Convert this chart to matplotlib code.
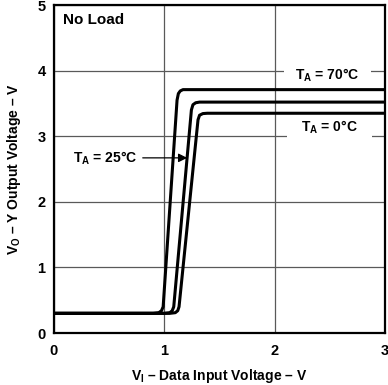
import numpy as np
import matplotlib
matplotlib.use("Agg")
import matplotlib.pyplot as plt

plt.rcParams['font.family'] = ['Liberation Sans', 'DejaVu Sans']
plt.rcParams['font.weight'] = 'bold'
plt.rcParams['mathtext.fontset'] = 'custom'
plt.rcParams['mathtext.rm'] = 'Liberation Sans:bold'
plt.rcParams['mathtext.it'] = 'Liberation Sans:bold'
plt.rcParams['mathtext.bf'] = 'Liberation Sans:bold'
plt.rcParams['mathtext.default'] = 'rm'

# transfer curves (VI, VO)
vi_70 = [0, 0.90, 0.95, 0.975, 0.99, 1.116, 1.128, 1.145, 1.17, 3]
vo_70 = [0.3, 0.3, 0.31, 0.34, 0.40, 3.55, 3.65, 3.69, 3.71, 3.71]
vi_25 = [0, 1.00, 1.05, 1.072, 1.086, 1.246, 1.26, 1.285, 1.32, 3]
vo_25 = [0.3, 0.3, 0.31, 0.34, 0.40, 3.40, 3.48, 3.51, 3.52, 3.52]
vi_0 = [0, 1.05, 1.10, 1.122, 1.134, 1.306, 1.32, 1.35, 1.39, 3]
vo_0 = [0.3, 0.3, 0.31, 0.34, 0.40, 3.25, 3.32, 3.345, 3.35, 3.35]

xticks = [0, 1, 2, 3]
yticks = [0, 1, 2, 3, 4, 5]

fig = plt.figure(figsize=(3.88, 3.85), dpi=100)
ax = fig.add_axes([0.139, 0.135, 0.853, 0.852])

ax.set_xlim(0, 3)
ax.set_ylim(0, 5)
ax.set_xticks(xticks)
ax.set_yticks(yticks)
ax.tick_params(length=0, labelsize=10.5)
ax.tick_params(axis='x', pad=8)
ax.tick_params(axis='y', pad=6)
for lbl in ax.get_xticklabels() + ax.get_yticklabels():
    lbl.set_fontweight('bold')
ax.grid(True, color='0.35', lw=0.9)
ax.set_axisbelow(True)
for s in ax.spines.values():
    s.set_linewidth(1.6)

for x, y in [(vi_70, vo_70), (vi_25, vo_25), (vi_0, vo_0)]:
    ax.plot(x, y, color='black', lw=2.2, solid_joinstyle='round',
            solid_capstyle='butt', zorder=2)

ax.text(0.08, 4.77, 'No Load', fontsize=11, fontweight='bold', va='center')
# labels sit on a white patch that breaks the grid line behind them
ax.text(2.48, 3.93, r'T$_\mathrm{A}$ = 70°C', fontsize=10, fontweight='bold',
        ha='center', va='center', zorder=1,
        bbox=dict(fc='white', ec='none', pad=8))
ax.text(2.50, 3.14, r'T$_\mathrm{A}$ = 0°C', fontsize=10, fontweight='bold',
        ha='center', va='center', zorder=1,
        bbox=dict(fc='white', ec='none', pad=10))
ax.text(0.172, 2.67, r'T$_\mathrm{A}$ = 25°C', fontsize=10, fontweight='bold',
        va='center')
ax.annotate('', xy=(1.208, 2.67), xytext=(0.805, 2.67),
            arrowprops=dict(arrowstyle='-|>', color='black', lw=0.9,
                            mutation_scale=13, shrinkA=0, shrinkB=0))

ax.set_xlabel(r'V$_\mathrm{I}$ – Data Input Voltage – V', fontsize=10,
              fontweight='bold', va='center')
ax.xaxis.set_label_coords(0.5, -0.13)
ax.set_ylabel(r'V$_\mathrm{O}$ – Y Output Voltage – V', fontsize=10,
              fontweight='bold', labelpad=10)

fig.savefig('out.png', dpi=100)
